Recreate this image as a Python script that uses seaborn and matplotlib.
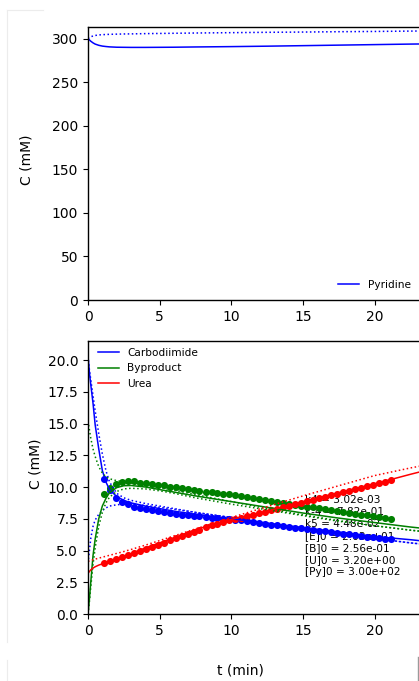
import matplotlib
matplotlib.use("Agg")
import matplotlib.pyplot as plt
import seaborn as sns
from matplotlib.lines import Line2D

# ---------------- data ----------------
t_model = [0, 0.1, 0.2, 0.35, 0.5, 0.75, 1.0, 1.25, 1.5, 2.0, 2.5, 3, 4, 5, 6,
           7.5, 10, 12.5, 15, 17.5, 20, 22.5, 24.6]

py_fit = [300.0, 298.3, 296.8, 295.0, 293.6, 292.2, 291.3, 290.8, 290.4, 290.0, 289.9,
          289.8, 289.8, 289.9, 290.0, 290.3, 290.7, 291.2, 291.8, 292.4, 293.0, 293.6, 294.0]
py_alt = [300.0, 301.2, 302.0, 302.9, 303.5, 304.1, 304.4, 304.6, 304.8, 305.0, 305.2,
          305.3, 305.6, 305.8, 306.0, 306.3, 306.7, 307.1, 307.4, 307.8, 308.1, 308.5, 308.8]

carb_fit = [20.3, 19.0, 18.0, 16.6, 14.9, 13.0, 11.3, 10.4, 9.8, 9.25, 8.95, 8.75, 8.5,
            8.3, 8.1, 7.85, 7.5, 7.15, 6.8, 6.45, 6.1, 5.85, 5.6]
carb_alt_hi = [20.3, 19.2, 18.4, 17.2, 16.0, 14.2, 12.6, 11.3, 10.4, 9.5, 9.15, 8.95, 8.7,
               8.5, 8.3, 8.0, 7.6, 7.15, 6.75, 6.35, 5.95, 5.6, 5.35]
carb_alt_lo = [4.0, 5.0, 6.0, 6.9, 7.4, 7.85, 8.15, 8.35, 8.5, 8.6, 8.65, 8.65, 8.55,
               8.4, 8.25, 8.0, 7.6, 7.15, 6.75, 6.35, 5.95, 5.6, 5.35]

byp_fit = [0.0, 1.2, 2.6, 4.6, 5.9, 7.5, 8.5, 9.1, 9.55, 9.95, 10.1, 10.12, 10.0, 9.8,
           9.6, 9.3, 8.85, 8.4, 7.95, 7.55, 7.2, 6.85, 6.6]
byp_alt_hi = [15.2, 14.5, 13.8, 13.0, 12.4, 11.6, 11.1, 10.8, 10.65, 10.5, 10.4, 10.3,
              10.15, 9.95, 9.75, 9.4, 8.85, 8.3, 7.8, 7.35, 6.95, 6.6, 6.35]
byp_alt_lo = [0.0, 1.0, 2.2, 3.9, 5.2, 6.9, 8.0, 8.75, 9.2, 9.65, 9.85, 9.9, 9.85, 9.7,
              9.5, 9.15, 8.65, 8.2, 7.75, 7.3, 6.95, 6.6, 6.35]

urea_fit = [3.2, 3.35, 3.48, 3.62, 3.72, 3.85, 3.95, 4.05, 4.15, 4.35, 4.55, 4.75, 5.2,
            5.6, 6.0, 6.65, 7.45, 8.1, 8.85, 9.55, 10.25, 11.0, 11.6]
urea_alt = [4.15, 4.18, 4.22, 4.27, 4.32, 4.4, 4.47, 4.55, 4.62, 4.77, 4.92, 5.08, 5.42,
            5.78, 6.15, 6.7, 7.6, 8.45, 9.3, 10.1, 10.9, 11.5, 11.95]

t_data = [1.12, 1.53, 1.95, 2.37, 2.78, 3.20, 3.62, 4.03, 4.45, 4.87, 5.28, 5.70, 6.12,
          6.53, 6.95, 7.37, 7.78, 8.20, 8.62, 9.03, 9.45, 9.87, 10.28, 10.70, 11.12,
          11.53, 11.95, 12.37, 12.78, 13.20, 13.62, 14.03, 14.45, 14.87, 15.28, 15.70,
          16.12, 16.53, 16.95, 17.37, 17.78, 18.20, 18.62, 19.03, 19.45, 19.87, 20.28,
          20.70, 21.12]
carb_data = [10.6, 9.8, 9.16, 8.85, 8.64, 8.45, 8.32, 8.24, 8.16, 8.10, 8.03, 7.95, 7.90,
             7.82, 7.77, 7.74, 7.69, 7.66, 7.58, 7.53, 7.48, 7.45, 7.40, 7.38, 7.32, 7.24,
             7.16, 7.10, 7.04, 6.98, 6.92, 6.86, 6.80, 6.75, 6.69, 6.63, 6.57, 6.51, 6.45,
             6.39, 6.33, 6.27, 6.21, 6.15, 6.09, 6.03, 5.98, 5.93, 5.88]
byp_data = [9.47, 9.95, 10.26, 10.42, 10.45, 10.50, 10.34, 10.34, 10.21, 10.18, 10.13,
            10.03, 9.97, 9.90, 9.82, 9.79, 9.71, 9.63, 9.58, 9.50, 9.47, 9.42, 9.37, 9.29,
            9.21, 9.13, 9.05, 8.97, 8.89, 8.82, 8.75, 8.67, 8.60, 8.53, 8.46, 8.39, 8.32,
            8.25, 8.18, 8.11, 8.04, 7.97, 7.90, 7.83, 7.76, 7.69, 7.62, 7.54, 7.46]
urea_data = [3.99, 4.18, 4.36, 4.49, 4.65, 4.78, 4.93, 5.09, 5.28, 5.46, 5.59, 5.80, 5.98,
             6.14, 6.33, 6.48, 6.64, 6.82, 6.98, 7.12, 7.25, 7.37, 7.47, 7.57, 7.68, 7.80,
             7.92, 8.04, 8.16, 8.28, 8.40, 8.52, 8.64, 8.76, 8.88, 8.99, 9.11, 9.23, 9.35,
             9.47, 9.58, 9.70, 9.82, 9.94, 10.06, 10.18, 10.30, 10.43, 10.55]

param_names = ["k4", "k-4", "k5", "[E]0", "[B]0", "[U]0", "[Py]0"]
param_values = ["3.02e-03", "7.82e-01", "4.48e-02", "2.03e+01", "2.56e-01", "3.20e+00", "3.00e+02"]

x_ticks = [0, 5, 10, 15, 20]
top_yticks = [0, 50, 100, 150, 200, 250, 300]
bot_yticks = [0.0, 2.5, 5.0, 7.5, 10.0, 12.5, 15.0, 17.5, 20.0]

# ---------------- figure ----------------
W, H = 419, 681
fig = plt.figure(figsize=(W / 100, H / 100), dpi=100)
fig.patch.set_facecolor("white")

left_px, right_px = 88, 440
ax1 = fig.add_axes([left_px / W, 1 - 300 / H, (right_px - left_px) / W, 273 / H])
ax2 = fig.add_axes([left_px / W, 1 - 614 / H, (right_px - left_px) / W, 273.3 / H])

LW = 1.1
# top: pyridine
sns.lineplot(x=t_model, y=py_fit, ax=ax1, color="blue", lw=LW, label="Pyridine")
sns.lineplot(x=t_model, y=py_alt, ax=ax1, color="blue", lw=LW, linestyle=":")

# bottom
for fit, hi, lo, col, name in [
    (carb_fit, carb_alt_hi, carb_alt_lo, "blue", "Carbodiimide"),
    (byp_fit, byp_alt_hi, byp_alt_lo, "green", "Byproduct"),
]:
    sns.lineplot(x=t_model, y=fit, ax=ax2, color=col, lw=LW, label=name, zorder=2)
    sns.lineplot(x=t_model, y=hi, ax=ax2, color=col, lw=LW, linestyle=":", zorder=2)
    sns.lineplot(x=t_model, y=lo, ax=ax2, color=col, lw=LW, linestyle=":", zorder=2)
sns.lineplot(x=t_model, y=urea_fit, ax=ax2, color="red", lw=LW, label="Urea", zorder=2)
sns.lineplot(x=t_model, y=urea_alt, ax=ax2, color="red", lw=LW, linestyle=":", zorder=2)

for d, col in [(carb_data, "blue"), (byp_data, "green"), (urea_data, "red")]:
    sns.scatterplot(x=t_data, y=d, ax=ax2, color=col, s=26, linewidth=0, zorder=1.5,
                    legend=False)

txt = "\n".join(f"{n} = {v}" for n, v in zip(param_names, param_values))
ax2.text(15.14, 9.37, txt, fontsize=7.6, va="top", ha="left", zorder=0.5,
         linespacing=1.24)

# axes cosmetics
for ax in (ax1, ax2):
    ax.set_xlim(0, (right_px - left_px) / 14.33)
    ax.set_xticks(x_ticks)
    ax.set_xticklabels([str(v) for v in x_ticks])
    ax.tick_params(labelsize=10, direction="out", length=3.5, width=0.8)
    for sp in ax.spines.values():
        sp.set_linewidth(1.0)
        sp.set_color("black")
    ax.set_facecolor("white")

ax1.set_ylim(0, 313.2)
ax1.set_yticks(top_yticks)
ax1.set_yticklabels([str(v) for v in top_yticks])
ax2.set_ylim(0, 21.52)
ax2.set_yticks(bot_yticks)
ax2.set_yticklabels([f"{v:.1f}" for v in bot_yticks])

ax1.set_ylabel("C (mM)", fontsize=10, va="center")
ax1.yaxis.set_label_coords((26 - left_px) / (right_px - left_px), 0.513)
ax2.set_ylabel("C (mM)", fontsize=10, va="center")
ax2.yaxis.set_label_coords((35 - left_px) / (right_px - left_px), 0.55)
ax1.set_xlabel("")
ax2.set_xlabel("t (min)", fontsize=10, va="center")
ax2.xaxis.set_label_coords((240 - left_px) / (right_px - left_px), (614 - 670) / 273.3)

# legends
h1, l1 = ax1.get_legend_handles_labels()
ax1.legend(h1, l1, loc="center left", bbox_to_anchor=(338 / W, 1 - 285 / H),
           bbox_transform=fig.transFigure, frameon=False, fontsize=7.6,
           borderpad=0, borderaxespad=0, handletextpad=0.8)
h2, l2 = ax2.get_legend_handles_labels()
ax2.legend(h2, l2, loc="upper left", bbox_to_anchor=(97.7 / W, 1 - 348 / H),
           bbox_transform=fig.transFigure, frameon=False, fontsize=7.6,
           borderpad=0, borderaxespad=0, handletextpad=0.8, labelspacing=0.5)

# faint screenshot frame lines
for (x0, y0, x1, y1) in [(7, 10, 7, 330), (7, 10, 43, 10), (7, 330, 7, 642),
                         (7, 660, 7, 681)]:
    fig.add_artist(Line2D([x0 / W, x1 / W], [1 - y0 / H, 1 - y1 / H],
                          transform=fig.transFigure, color="#ececec", lw=0.8))
fig.add_artist(Line2D([417.7 / W, 417.7 / W], [1 - 657 / H, 0],
                      transform=fig.transFigure, color="#9a9a9a", lw=1.0))

fig.savefig("out.png", dpi=100)
